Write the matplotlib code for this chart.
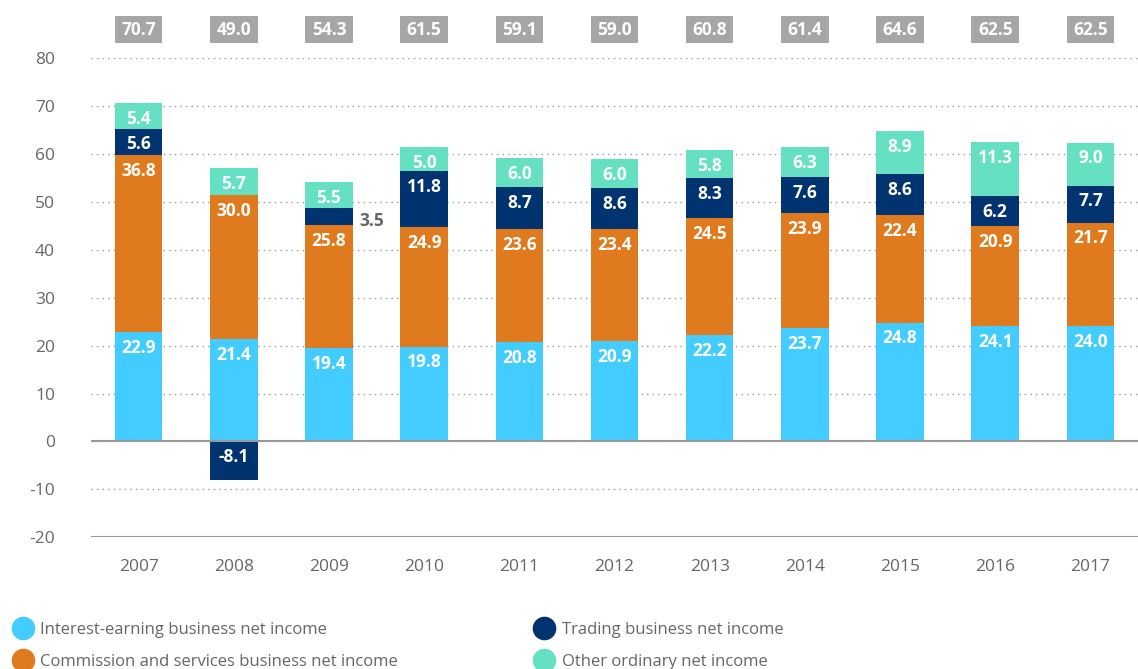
import matplotlib
matplotlib.use("Agg")
import matplotlib.pyplot as plt
import numpy as np
from matplotlib.lines import Line2D

plt.rcParams['font.family'] = ['Open Sans', 'DejaVu Sans']

years = ["2007", "2008", "2009", "2010", "2011", "2012", "2013", "2014", "2015", "2016", "2017"]
interest = [22.9, 21.4, 19.4, 19.8, 20.8, 20.9, 22.2, 23.7, 24.8, 24.1, 24.0]
commission = [36.8, 30.0, 25.8, 24.9, 23.6, 23.4, 24.5, 23.9, 22.4, 20.9, 21.7]
trading = [5.6, -8.1, 3.5, 11.8, 8.7, 8.6, 8.3, 7.6, 8.6, 6.2, 7.7]
other = [5.4, 5.7, 5.5, 5.0, 6.0, 6.0, 5.8, 6.3, 8.9, 11.3, 9.0]
totals = [70.7, 49.0, 54.3, 61.5, 59.1, 59.0, 60.8, 61.4, 64.6, 62.5, 62.5]
yticks = [-20, -10, 0, 10, 20, 30, 40, 50, 60, 70, 80]

c_int = "#42CCFF"
c_com = "#E07A1E"
c_trd = "#00336F"
c_oth = "#66E0C2"
c_box = "#A6A6A6"
c_txt = "#666666"

fig = plt.figure(figsize=(11.38, 6.69), dpi=100)
ax = fig.add_axes([0.080, 0.197, 0.920, 0.716])

x = np.arange(len(years))
w = 0.5
interest_a = np.array(interest)
commission_a = np.array(commission)
trading_a = np.array(trading)
other_a = np.array(other)

b_com = interest_a
pos_trd = np.where(trading_a > 0, trading_a, 0)
b_trd = interest_a + commission_a
b_oth = b_trd + pos_trd

ax.bar(x, interest_a, w, color=c_int, zorder=3)
ax.bar(x, commission_a, w, bottom=b_com, color=c_com, zorder=3)
ax.bar(x, trading_a, w, bottom=np.where(trading_a > 0, b_trd, 0), color=c_trd, zorder=3)
ax.bar(x, other_a, w, bottom=b_oth, color=c_oth, zorder=3)

off = 3.3
lab_kw = dict(ha="center", va="center", color="white", fontsize=12.5, fontweight="bold", zorder=5)
for i in range(len(years)):
    ax.text(x[i], interest_a[i] - off, f"{interest[i]:.1f}", **lab_kw)
    ax.text(x[i], b_trd[i] - off, f"{commission[i]:.1f}", **lab_kw)
    if trading[i] < 0:
        ax.text(x[i], -off, f"{trading[i]:.1f}", **lab_kw)
    elif trading[i] < 4:
        ax.text(x[i] + w / 2 + 0.07, b_trd[i] + trading[i] / 2 - 1.0, f"{trading[i]:.1f}",
                ha="left", va="center", color=c_txt, fontsize=12.5, fontweight="bold", zorder=5)
    else:
        ax.text(x[i], b_oth[i] - off, f"{trading[i]:.1f}", **lab_kw)
    ax.text(x[i], b_oth[i] + other[i] - off, f"{other[i]:.1f}", **lab_kw)

# total boxes above the plot
ax.bar(x, [5.7] * len(x), w, bottom=83.1, color=c_box, clip_on=False, zorder=3)
for i in range(len(years)):
    ax.text(x[i], 83.1 + 2.85, f"{totals[i]:.1f}", ha="center", va="center",
            color="white", fontsize=12.5, fontweight="bold", clip_on=False, zorder=5)

ax.set_xlim(-0.5, len(years) - 0.5)
ax.set_ylim(-20, 80)
ax.set_yticks(yticks)
ax.set_yticklabels([str(t) for t in yticks])
ax.set_xticks(x)
ax.set_xticklabels(years)
ax.tick_params(axis="both", length=0, labelsize=12.5, colors=c_txt)
ax.tick_params(axis="y", pad=26)
ax.tick_params(axis="x", pad=16)
for s in ax.spines.values():
    s.set_visible(False)

for t in yticks:
    if t in (0, -20):
        ax.axhline(t, color="#999999", lw=1.5, zorder=4 if t == 0 else 2)
    else:
        ax.axhline(t, color="#999999", lw=1, ls=(0, (1, 3)), zorder=1)

handles = [Line2D([], [], marker="o", ls="", ms=16, color=c) for c in (c_int, c_com, c_trd, c_oth)]
labels = ["Interest-earning business net income", "Commission and services business net income",
          "Trading business net income", "Other ordinary net income"]
leg_kw = dict(loc="upper left", frameon=False, fontsize=12, labelcolor=c_txt, handletextpad=0.05,
              labelspacing=0.95, borderaxespad=0, borderpad=0)
fig.legend(handles[:2], labels[:2], bbox_to_anchor=(0.0055, 0.0705), **leg_kw)
fig.legend(handles[2:], labels[2:], bbox_to_anchor=(0.4635, 0.0705), **leg_kw)

fig.savefig("out.png", dpi=100)
